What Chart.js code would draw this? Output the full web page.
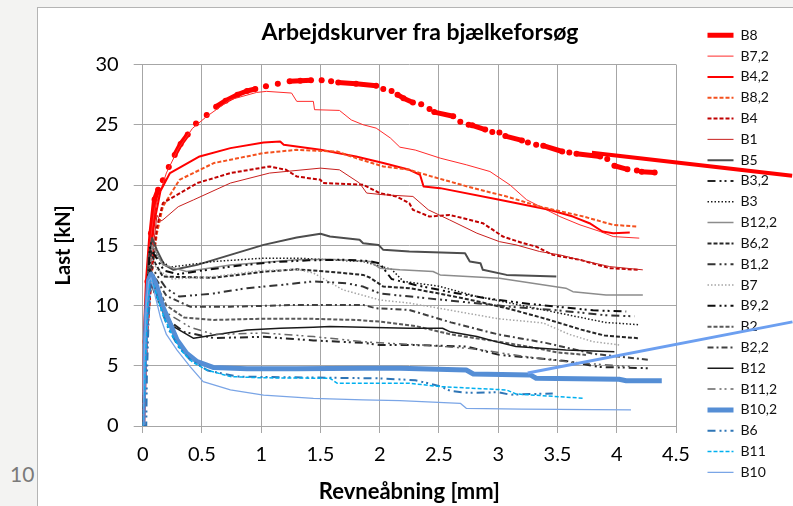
<!DOCTYPE html>
<html><head><meta charset="utf-8">
<script src="https://cdn.jsdelivr.net/npm/chart.js@4.4.1/dist/chart.umd.min.js"></script>
<style>
html,body{margin:0;padding:0;width:793px;height:506px;overflow:hidden;background:#f3f3f2;}
#frame{position:absolute;left:37px;top:7px;width:756px;height:499px;background:#fff;border-left:1px solid #b4b4b4;border-top:1px solid #b4b4b4;}
#c{position:absolute;left:0;top:0;}
#pg{position:absolute;left:10px;top:461px;font-family:Lato,sans-serif;font-size:21px;color:#7a7a7a;}
</style></head>
<body>
<div id="frame"><canvas id="c" width="755" height="498"></canvas></div>
<div id="pg">10</div>
<script>
// ---- tick values ----
const xTickValues = [0,0.5,1,1.5,2,2.5,3,3.5,4,4.5];
const yTickValues = [0,5,10,15,20,25,30];

// ---- series (x = crack opening [mm], y = load [kN]) ----
const B8_runs = [
  [[0,0],[0.02,7],[0.04,12],[0.07,16],[0.1,18.8],[0.13,19.6]],
  [[0.17,20.4]],[[0.22,21.5]],
  [[0.27,22.5],[0.32,23.4],[0.38,24.2]],
  [[0.45,25.1]],[[0.54,25.8]],
  [[0.62,26.5],[0.7,27.0],[0.8,27.5],[0.88,27.8],[0.95,27.97]],
  [[1.04,28.2]],[[1.14,28.4]],
  [[1.24,28.6],[1.33,28.65],[1.42,28.7]],
  [[1.51,28.7]],[[1.59,28.6]],
  [[1.65,28.5],[1.8,28.4],[1.97,28.24]],
  [[2.03,27.97]],[[2.10,27.8]],
  [[2.15,27.5],[2.2,27.2],[2.28,26.85]],
  [[2.35,26.7]],[[2.42,26.3]],
  [[2.46,26.05],[2.62,25.7]],
  [[2.68,25.25]],[[2.75,25.0]],
  [[2.78,24.95],[2.89,24.6]],
  [[2.95,24.4]],[[3.01,24.36]],
  [[3.06,24.06],[3.20,23.7]],
  [[3.25,23.53]],[[3.32,23.34]],
  [[3.38,23.26],[3.54,22.78]],
  [[3.60,22.7]],
  [[3.66,22.6],[3.86,22.37]],
  [[3.92,22.15]],
  [[3.98,21.6],[4.09,21.3]],
  [[4.17,21.2]],
  [[4.21,21.1],[4.32,21.04]]
];
const B7_2 = [[0,0],[0.03,10],[0.06,15],[0.1,18],[0.2,21],[0.3,23],[0.42,24.7],[0.54,25.69],[0.74,27.08],[0.96,27.68],[1.045,27.77],[1.256,27.63],[1.30,26.94],[1.44,26.94],[1.45,26.25],[1.66,26.19],[1.76,25.4],[1.86,25.0],[1.97,24.72],[2.09,23.9],[2.17,23.14],[2.30,22.9],[2.51,22.23],[2.73,21.68],[2.93,21.12],[3.10,20.0],[3.24,18.77],[3.38,18.08],[3.52,17.38],[3.69,16.69],[3.86,16.14],[3.97,15.72],[4.19,15.59]];
const B4_2 = [[0,0],[0.03,9],[0.06,14],[0.1,17],[0.15,19.5],[0.23,20.99],[0.48,22.37],[0.74,23.06],[1.02,23.53],[1.16,23.61],[1.19,23.34],[1.5,22.92],[1.8,22.37],[2.03,21.82],[2.25,21.26],[2.34,20.85],[2.37,19.88],[2.51,19.74],[3.01,18.77],[3.43,17.94],[3.63,17.38],[3.77,16.83],[3.88,16.14],[3.97,16.0],[4.11,16.06]];
const B8_2 = [[0,0],[0.04,8],[0.08,13],[0.12,16],[0.17,18.2],[0.31,20.43],[0.6,21.82],[1.02,22.65],[1.3,22.92],[1.64,22.78],[1.8,22.23],[2.03,21.54],[2.25,21.26],[2.42,20.76],[2.79,19.74],[3.07,19.05],[3.35,18.21],[3.72,17.38],[3.97,16.69],[4.18,16.55]];
const B4 = [[0,0],[0.04,8],[0.08,13],[0.12,16.5],[0.17,18.49],[0.46,20.16],[0.74,20.99],[1.07,21.54],[1.21,21.26],[1.30,20.71],[1.50,20.43],[1.52,20.16],[1.86,20.02],[2.0,19.33],[2.14,19.05],[2.25,18.49],[2.28,17.94],[2.42,17.38],[2.59,17.52],[2.87,16.83],[3.04,15.72],[3.21,15.17],[3.32,14.89],[3.46,14.2],[3.69,13.79],[3.94,13.1],[4.19,12.96]];
const B1 = [[0,0],[0.04,9],[0.08,14],[0.12,17.5],[0.15,17.0],[0.17,17.1],[0.3,18.2],[0.43,18.77],[0.74,20.16],[1.07,20.99],[1.50,21.4],[1.66,21.26],[1.83,20.16],[1.89,19.33],[2.03,19.19],[2.28,19.05],[2.41,17.94],[2.59,17.1],[2.82,16.0],[3.01,15.3],[3.15,15.03],[3.35,14.48],[3.52,14.2],[3.69,13.79],[3.94,13.23],[4.22,12.96]];
const B5 = [[0,0],[0.02,7],[0.05,14],[0.08,15.6],[0.12,14.6],[0.18,13.4],[0.26,12.96],[0.46,13.37],[0.74,14.2],[1.02,15.03],[1.3,15.64],[1.5,15.95],[1.58,15.72],[1.83,15.45],[1.86,15.17],[1.99,15.03],[2.03,14.62],[2.25,14.48],[2.72,14.34],[2.76,13.65],[2.85,13.51],[2.87,12.96],[3.07,12.54],[3.49,12.4]];
const B3_2 = [[0,0],[0.03,8],[0.06,12.5],[0.1,11.0],[0.2,8.9],[0.35,7.8],[0.6,7.3],[1.02,7.4],[1.44,7.1],[1.86,6.9],[2.0,6.73],[2.25,6.73],[2.73,6.6],[3.01,5.9],[3.57,5.4],[3.85,4.9],[4.29,4.79]];
const B3 = [[0,0],[0.03,10],[0.07,15.2],[0.12,14.0],[0.23,13.18],[0.6,13.65],[1.02,13.93],[1.3,13.93],[1.58,13.79],[1.86,13.65],[2.1,13.0],[2.2,12.0],[2.5,11.6],[2.8,10.8],[3.1,10.2],[3.4,9.6],[3.7,9.0],[3.9,8.6],[4.19,8.4]];
const B12_2 = [[0,0],[0.02,6],[0.05,12.5],[0.08,15.0],[0.17,13.37],[0.37,12.82],[0.74,13.37],[1.3,13.79],[1.58,13.84],[1.92,13.65],[2.0,13.1],[2.17,12.96],[2.45,12.82],[2.51,12.54],[3.01,12.27],[3.57,11.44],[3.63,11.15],[3.91,10.88],[4.22,10.88]];
const B6_2 = [[0,0],[0.03,9],[0.07,14.5],[0.1,13.6],[0.17,12.4],[0.6,12.3],[1.02,12.8],[1.3,13.0],[1.58,12.8],[1.86,12.54],[1.92,12.3],[2.03,11.57],[2.25,11.44],[2.5,11.0],[2.8,10.4],[3.1,9.7],[3.4,8.9],[3.7,8.0],[3.9,7.5],[4.19,7.28]];
const B1_2 = [[0,0],[0.03,8],[0.06,13.5],[0.1,12.8],[0.2,11.4],[0.31,10.74],[0.6,11.0],[0.88,11.44],[1.16,11.7],[1.44,12.0],[1.72,11.85],[1.86,11.57],[2.0,11.0],[2.3,10.7],[2.7,10.3],[3.1,9.9],[3.5,9.6],[3.9,9.2],[4.15,9.1]];
const B7 = [[0,0],[0.03,9],[0.07,14.0],[0.12,13.0],[0.25,12.2],[0.6,12.4],[1.0,12.9],[1.3,13.0],[1.44,12.7],[1.69,11.3],[2.0,10.46],[2.25,10.2],[2.6,9.6],[3.0,8.9],[3.38,8.55],[3.6,7.6],[3.8,7.0],[4.02,6.73]];
const B9_2 = [[0,0],[0.03,9],[0.06,14.8],[0.1,14.2],[0.18,12.9],[0.3,12.6],[0.5,12.9],[0.8,13.3],[1.1,13.6],[1.4,13.75],[1.7,13.8],[1.9,13.7],[2.0,13.5],[2.1,12.2],[2.3,11.7],[2.6,11.1],[2.9,10.6],[3.2,10.2],[3.5,9.9],[3.8,9.6],[4.08,9.5]];
const B2 = [[0,0],[0.03,8],[0.06,13.2],[0.1,12.0],[0.2,10.0],[0.35,9.0],[0.6,8.8],[1.0,8.9],[1.4,8.9],[1.8,8.8],[2.0,8.66],[2.3,8.3],[2.6,7.6],[3.0,7.0],[3.3,6.5],[3.5,6.1],[3.74,5.9]];
const B2_2 = [[0,0],[0.03,8],[0.06,13],[0.1,12.4],[0.2,10.8],[0.4,9.9],[0.74,9.9],[1.02,9.97],[1.3,10.05],[1.58,10.05],[1.86,10.05],[1.97,9.77],[2.25,9.63],[2.6,8.6],[3.0,7.6],[3.4,6.9],[3.8,6.0],[4.28,5.48]];
const B12 = [[0,0],[0.03,8],[0.06,13.0],[0.1,11.8],[0.18,9.5],[0.26,8.25],[0.43,7.28],[0.6,7.56],[0.88,7.97],[1.16,8.11],[1.44,8.2],[1.58,8.25],[1.86,8.2],[2.25,8.11],[2.53,8.11],[2.59,7.83],[2.82,7.42],[2.98,7.0],[3.15,6.59],[3.57,6.31],[3.98,6.17]];
const B11_2 = [[0,0],[0.03,8],[0.06,12.8],[0.1,11.5],[0.2,9.4],[0.4,8.2],[0.6,7.6],[1.02,7.72],[1.44,7.42],[1.86,7.0],[2.0,6.9],[2.4,6.7],[2.8,6.4],[3.2,5.8],[3.6,5.3],[4.11,4.93]];
const B10_2 = [[0,0],[0.01,4],[0.03,9],[0.05,12.1],[0.07,12.6],[0.09,12.3],[0.12,11.57],[0.17,9.9],[0.23,8.53],[0.29,7.14],[0.37,6.04],[0.46,5.34],[0.6,4.85],[0.88,4.75],[1.3,4.75],[1.86,4.8],[2.17,4.79],[2.73,4.65],[2.79,4.32],[3.27,4.24],[3.32,3.96],[4.02,3.88],[4.08,3.76],[4.38,3.76]];
const B6 = [[0,0],[0.03,0],[0.035,4],[0.05,9],[0.07,12.0],[0.1,11.5],[0.15,9.8],[0.22,8.0],[0.3,6.6],[0.4,5.5],[0.55,4.6],[0.8,4.1],[1.2,4.05],[1.6,4.0],[2.0,3.95],[2.3,3.8],[2.51,3.3],[2.6,2.9],[2.75,2.75],[3.0,2.8],[3.1,2.6],[3.46,2.7]];
const B11 = [[0,0],[0.02,5],[0.04,10],[0.06,12.3],[0.08,12.0],[0.12,10.8],[0.18,9.0],[0.25,7.5],[0.33,6.2],[0.42,5.3],[0.54,4.65],[0.74,4.1],[1.0,4.0],[1.58,3.96],[1.64,3.55],[2.25,3.55],[2.51,3.27],[3.07,2.99],[3.15,2.66],[3.72,2.3]];
const B10 = [[0,0],[0.01,5],[0.03,10],[0.05,12.0],[0.07,12.3],[0.1,11.0],[0.15,9.0],[0.2,7.6],[0.29,6.3],[0.4,4.93],[0.51,3.68],[0.74,2.99],[1.02,2.57],[1.44,2.3],[1.86,2.16],[2.17,2.1],[2.68,1.88],[2.73,1.47],[3.2,1.4],[4.12,1.33]];

// overlay arrows from the slide (extend past the plot)
const arrowRed = [[3.79,22.67],[5.48,20.76]];
const arrowBlue = [[3.249,4.40],[5.483,8.64]];

const seriesNames = ['B8','B7,2','B4,2','B8,2','B4','B1','B5','B3,2','B3','B12,2','B6,2','B1,2','B7','B9,2','B2','B2,2','B12','B11,2','B10,2','B6','B11','B10'];
const seriesData = [null,B7_2,B4_2,B8_2,B4,B1,B5,B3_2,B3,B12_2,B6_2,B1_2,B7,B9_2,B2,B2_2,B12,B11_2,B10_2,B6,B11,B10];

const DD = [8,4,2,3,2,4];
const styles = {
  'B8':   {c:'#ff0000', w:5},
  'B7,2': {c:'#ff2b2b', w:1},
  'B4,2': {c:'#ff0000', w:2},
  'B8,2': {c:'#f4511e', w:2, d:[4,2]},
  'B4':   {c:'#c00000', w:2, d:[4,2]},
  'B1':   {c:'#c8201e', w:1},
  'B5':   {c:'#4d4d4d', w:2},
  'B3,2': {c:'#262626', w:2, d:DD},
  'B3':   {c:'#1a1a1a', w:1.5, d:[1.5,2]},
  'B12,2':{c:'#8c8c8c', w:1.5},
  'B6,2': {c:'#262626', w:2, d:[4,2]},
  'B1,2': {c:'#333333', w:2, d:DD},
  'B7':   {c:'#a6a6a6', w:1.5, d:[1.5,2]},
  'B9,2': {c:'#0d0d0d', w:2, d:DD},
  'B2':   {c:'#595959', w:2, d:[4,2]},
  'B2,2': {c:'#404040', w:2, d:[6,3,2,3]},
  'B12':  {c:'#1a1a1a', w:1.5},
  'B11,2':{c:'#666666', w:1.5, d:DD},
  'B10,2':{c:'#558ed5', w:5},
  'B6':   {c:'#2e75b6', w:2, d:DD},
  'B11':  {c:'#00b0f0', w:1.5, d:[4,2]},
  'B10':  {c:'#7aa5e6', w:1.3}
};

const toXY = arr => arr.map(p => ({x:p[0], y:p[1]}));
function runsToXY(runs){
  const out = [];
  runs.forEach((r,i) => { if(i>0) out.push({x:r[0][0], y:null}); r.forEach(p => out.push({x:p[0], y:p[1]})); });
  return out;
}

const datasets = [
  {label:'arrowRed', data:toXY(arrowRed), borderColor:'#ff0000', borderWidth:4, pointRadius:0, showLine:true, clip:false, order:-1000},
  {label:'arrowBlue', data:toXY(arrowBlue), borderColor:'#6c9ff0', borderWidth:3, pointRadius:0, showLine:true, clip:false, order:-999}
];
seriesNames.forEach((name,i) => {
  const s = styles[name];
  const isB8 = name === 'B8';
  datasets.push({
    label:name,
    data: isB8 ? runsToXY(B8_runs) : toXY(seriesData[i]),
    borderColor:s.c, backgroundColor:s.c, borderWidth:s.w, borderDash:s.d || [],
    borderCapStyle: isB8 ? 'round' : 'butt', borderJoinStyle:'round',
    showLine:true, tension:0, spanGaps:false,
    pointRadius: isB8 ? 3 : 0, pointBorderWidth:0, pointBackgroundColor:s.c,
    order:-i
  });
});

const legendPlace = {
  id:'legendPlace',
  afterLayout(chart){
    const lg = chart.legend; if(!lg) return;
    const pad = lg.options.labels.padding;
    lg.left = 669.5 - pad; lg.right = 755; lg.top = 13.5; lg.bottom = 498;
  }
};

const F = 'Lato, "Open Sans", sans-serif';
new Chart(document.getElementById('c'), {
  type:'scatter',
  data:{datasets},
  options:{
    responsive:false, animation:false, devicePixelRatio:1,
    layout:{padding:{left:9,right:0,top:0,bottom:0}},
    plugins:{
      tooltip:{enabled:false},
      title:{display:true, text:'Arbejdskurver fra bjælkeforsøg', color:'#000', font:{family:F, size:23, weight:'bold'}, padding:{top:11.2, bottom:17.7}},
      legend:{
        position:'chartArea', align:'start',
        labels:{
          font:{family:F, size:14}, color:'#111', usePointStyle:true, pointStyleWidth:26, padding:6.81,
          filter: it => it.datasetIndex >= 2,
          sort: (a,b) => a.datasetIndex - b.datasetIndex,
          generateLabels: chart => chart.data.datasets.map((ds,i) => ({
            text: ds.label, datasetIndex:i, pointStyle:'line', lineWidth:ds.borderWidth,
            lineDash: ds.borderDash || [], strokeStyle: ds.borderColor, fillStyle: ds.borderColor,
            lineCap:'butt', hidden:false, fontColor:'#111'
          }))
        }
      }
    },
    scales:{
      x:{type:'linear', min:0, max:4.5,
        afterBuildTicks: s => { s.ticks = xTickValues.map(v => ({value:v})); },
        ticks:{font:{family:F, size:20}, color:'#000', padding:10, maxRotation:0, autoSkip:false, callback: v => String(v)},
        grid:{color:'#a6a6a6', lineWidth:1, tickLength:7},
        border:{color:'#a6a6a6'},
        title:{display:true, text:'Revneåbning [mm]', color:'#000', font:{family:F, size:22, weight:'bold'}, padding:{top:0, bottom:0.8}},
        afterFit: s => { s.height = 80; }
      },
      y:{type:'linear', min:0, max:30,
        afterBuildTicks: s => { s.ticks = yTickValues.map(v => ({value:v})); },
        ticks:{font:{family:F, size:20}, color:'#000', padding:15, callback: v => String(v)},
        grid:{color:'#a6a6a6', lineWidth:1, tickLength:9},
        border:{color:'#a6a6a6'},
        title:{display:true, text:'Last [kN]', color:'#000', font:{family:F, size:20, weight:'bold'}, padding:{top:4.5, bottom:0}},
        afterFit: s => { s.width = 95.7; }
      },
      yR:{type:'linear', position:'right', display:true,
        grid:{display:false, drawTicks:false}, border:{display:false}, ticks:{display:false},
        afterFit: s => { s.width = 117; }
      }
    }
  },
  plugins:[legendPlace]
});
</script>
</body></html>
